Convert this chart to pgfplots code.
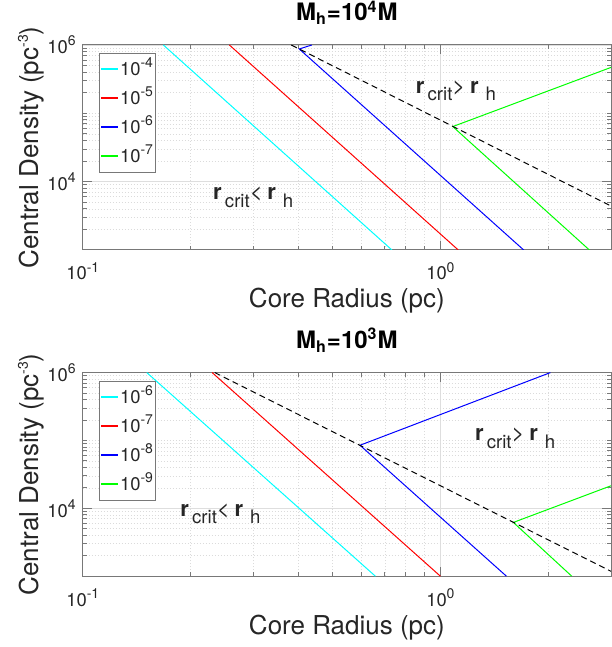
\documentclass[border=0pt]{standalone}
\usepackage{fontspec}
\setmainfont{TeX Gyre Heros}
\usepackage{pgfplots}
\pgfplotsset{compat=1.18}
\definecolor{axgray}{RGB}{120,120,120}
\definecolor{txt}{RGB}{38,38,38}
\definecolor{mcyan}{RGB}{0,255,255}
\definecolor{mred}{RGB}{255,0,0}
\definecolor{mblue}{RGB}{0,0,255}
\definecolor{mgreen}{RGB}{0,255,0}
\newcommand{\sub}[1]{\raisebox{-0.36em}{\fontsize{9.3}{10}\selectfont #1}}
\newcommand{\sups}[1]{\raisebox{0.42em}{\fontsize{7}{8}\selectfont #1}}
\newcommand{\rlab}[1]{\textbf{r}\hspace{1.6pt}\sub{crit}#1\hspace{2.4pt}\textbf{r}\hspace{3.5pt}\sub{h}}
\pgfplotsset{legend image code/.code={\draw[#1, line width=0.9pt] (0pt,0.2pt) -- (8.3pt,0.2pt);}}
\pgfplotsset{
  mstyle/.style={
    scale only axis, width=264.1pt,
    xmin=0.1, xmax=3, ymin=1e3, ymax=1e6,
    xtick={0.1,1}, xticklabels={10\sups{-1},10\sups{0}},
    ytick={1e4,1e6}, yticklabels={10\sups{4},10\sups{6}},
    minor xtick={0.2,0.3,0.4,0.5,0.6,0.7,0.8,0.9,2,3},
    minor ytick={2e3,3e3,4e3,5e3,6e3,7e3,8e3,9e3,2e4,3e4,4e4,5e4,6e4,7e4,8e4,9e4,1e5,2e5,3e5,4e5,5e5,6e5,7e5,8e5,9e5},
    tick align=inside, major tick length=4.5pt, minor tick length=2.2pt,
    grid=both,
    major grid style={black!13, line width=0.4pt},
    minor grid style={black!14, dash pattern=on 0.5pt off 1pt, line width=0.35pt},
    axis line style={axgray, line width=0.5pt},
    every tick/.style={axgray, line width=0.5pt},
    tick label style={font=\fontsize{9.2}{10}\selectfont, text=txt},
    xticklabel style={anchor=base, yshift=-15pt},
    xlabel={Core Radius (pc)},
    ylabel={Central Density (pc\sups{-3})},
    label style={font=\fontsize{13}{15}\selectfont, text=txt, inner sep=0pt},
    xlabel style={at={(axis description cs:0.5,0)}, anchor=base, yshift=-29pt},
    ylabel style={at={(axis description cs:-0.0833,0.5)}, anchor=base},
    title style={at={(axis description cs:0.5,1)}, anchor=south, yshift=4pt,
      inner sep=0pt, font=\bfseries\fontsize{12}{14}\selectfont, text=black},
    legend cell align=left,
    legend style={at={(axis description cs:0,1)}, anchor=north west,
      xshift=8pt, yshift=-4pt, draw=axgray, line width=0.5pt,
      font=\fontsize{9.2}{10}\selectfont, text=txt,
      inner xsep=0.6pt, inner ysep=0.75pt,
      nodes={inner xsep=0.6pt, inner ysep=1.25pt, text height=9pt, text depth=3pt}},
    every axis plot/.append style={line width=0.5pt},
  }}
\begin{document}
\begin{tikzpicture}
\begin{axis}[xmode=log, ymode=log, mstyle, at={(41.4pt,198.5pt)}, anchor=south west, height=102.5pt,
  title={M\textsubscript{h}=10\textsuperscript{4}M}]
\addplot[mcyan] coordinates {(0.168,1e6) (0.732,1e3)};
\addlegendentry{10\sups{-4}}
\addplot[mred] coordinates {(0.257,1e6) (1.122,1e3)};
\addlegendentry{10\sups{-5}}
\addplot[mblue] coordinates {(0.437,1e6) (0.403,8.75e5) (1.71,1e3)};
\addlegendentry{10\sups{-6}}
\addplot[mgreen] coordinates {(3,4.7e5) (1.083,6.4e4) (2.61,1e3)};
\addlegendentry{10\sups{-7}}
\addplot[black, dash pattern=on 3pt off 2pt, forget plot] coordinates {(0.383,1e6) (3,4.4e3)};
\node[anchor=base west, inner sep=0pt, text=txt, font=\fontsize{11}{13}\selectfont]
  at (axis cs:0.231,5.4e3) {\rlab{<}};
\node[anchor=base west, inner sep=0pt, text=txt, font=\fontsize{11}{13}\selectfont]
  at (axis cs:0.852,1.98e5) {\rlab{>}};
\end{axis}
\begin{axis}[xmode=log, ymode=log, mstyle, at={(41.4pt,35.4pt)}, anchor=south west, height=101.8pt,
  title={M\textsubscript{h}=10\textsuperscript{3}M}]
\addplot[mcyan] coordinates {(0.151,1e6) (0.658,1e3)};
\addlegendentry{10\sups{-6}}
\addplot[mred] coordinates {(0.230,1e6) (1.0,1e3)};
\addlegendentry{10\sups{-7}}
\addplot[mblue] coordinates {(2.03,1e6) (0.596,8.5e4) (1.53,1e3)};
\addlegendentry{10\sups{-8}}
\addplot[mgreen] coordinates {(3,2.15e4) (1.60,6.2e3) (2.33,1e3)};
\addlegendentry{10\sups{-9}}
\addplot[black, dash pattern=on 3pt off 2pt, forget plot] coordinates {(0.234,1e6) (3,1.18e3)};
\node[anchor=base west, inner sep=0pt, text=txt, font=\fontsize{11}{13}\selectfont]
  at (axis cs:0.187,7.7e3) {\rlab{<}};
\node[anchor=base west, inner sep=0pt, text=txt, font=\fontsize{11}{13}\selectfont]
  at (axis cs:1.247,1.0e5) {\rlab{>}};
\end{axis}
\pgfresetboundingbox
\path[use as bounding box] (0,0) rectangle (305.5pt,323.5pt);
\end{tikzpicture}
\end{document}
